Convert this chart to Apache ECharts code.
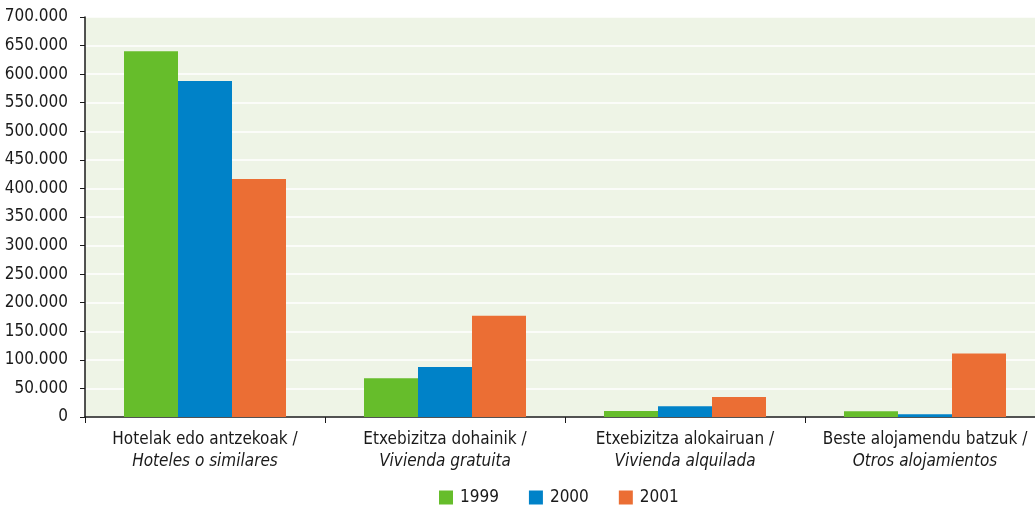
<!DOCTYPE html>
<html>
<head>
<meta charset="utf-8">
<script src="https://cdn.jsdelivr.net/npm/echarts@6/dist/echarts.min.js"></script>
<style>
  html, body { margin: 0; padding: 0; background: #fff; }
  #chart { width: 1035px; height: 513px; }
</style>
</head>
<body>
<div id="chart"></div>
<script>
var categories = [
  'Hotelak edo antzekoak /\n{i|Hoteles o similares}',
  'Etxebizitza dohainik /\n{i|Vivienda gratuita}',
  'Etxebizitza alokairuan /\n{i|Vivienda alquilada}',
  'Beste alojamendu batzuk /\n{i|Otros alojamientos}'
];
var years = ['1999', '2000', '2001'];
var values1999 = [640000, 68000, 10500, 10000];
var values2000 = [588000, 87500, 19000, 5000];
var values2001 = [416500, 177000, 35000, 111000];
var colors = ['#66bd2b', '#0082c8', '#eb6e34'];

var font = '"Liberation Sans Narrow", "DejaVu Sans Condensed", sans-serif';

function fmt(v) {
  return String(v).replace(/\B(?=(\d{3})+(?!\d))/g, '.');
}

var myChart = echarts.init(document.getElementById('chart'));
var option = {
  animation: false,
  textStyle: { fontFamily: font },
  color: colors,
  // la imagen original está recortada por la derecha
  grid: { left: 85, width: 960, top: 17, bottom: 96, outerBoundsMode: 'none',
    show: true, backgroundColor: '#eef4e6', borderWidth: 0 },
  legend: {
    bottom: 2,
    left: 434,
    itemWidth: 14,
    itemHeight: 14,
    itemGap: 30,
    icon: 'rect',
    textStyle: { fontSize: 17, color: '#1a1a1a', fontFamily: font, padding: [0, 0, 0, 2] },
    data: years
  },
  xAxis: {
    type: 'category',
    data: categories,
    axisLine: { lineStyle: { color: '#1a1a1a', width: 1.5 } },
    axisTick: { show: true, interval: 0, length: 6, lineStyle: { color: '#1a1a1a' } },
    axisLabel: {
      interval: 0,
      margin: 12,
      fontSize: 17,
      lineHeight: 22,
      color: '#1a1a1a',
      fontFamily: font,
      rich: { i: { fontStyle: 'italic', fontSize: 17, color: '#1a1a1a', fontFamily: font, lineHeight: 22 } }
    }
  },
  yAxis: {
    type: 'value',
    min: 0,
    max: 700000,
    interval: 50000,
    axisLine: { show: true, lineStyle: { color: '#1a1a1a', width: 1.5 } },
    axisTick: { show: true, length: 5, lineStyle: { color: '#1a1a1a' } },
    splitLine: { show: true, lineStyle: { color: '#ffffff', width: 1.5 } },
    axisLabel: {
      margin: 17,
      fontSize: 17,
      color: '#1a1a1a',
      fontFamily: font,
      formatter: fmt
    }
  },
  series: [
    { name: years[0], type: 'bar', data: values1999, barGap: '0%', barCategoryGap: '32.5%' },
    { name: years[1], type: 'bar', data: values2000, barGap: '0%', barCategoryGap: '32.5%' },
    { name: years[2], type: 'bar', data: values2001, barGap: '0%', barCategoryGap: '32.5%' }
  ]
};
myChart.setOption(option);
</script>
</body>
</html>
